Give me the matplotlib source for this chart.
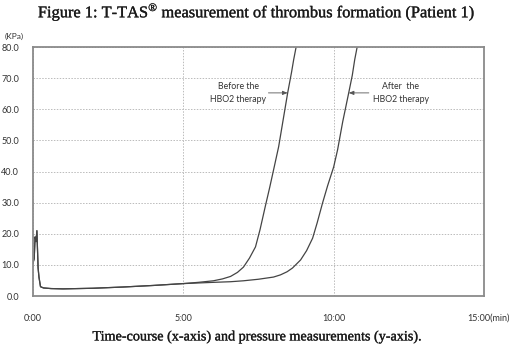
import matplotlib
matplotlib.use("Agg")
import matplotlib.pyplot as plt
import matplotlib.patheffects as pe

# time in minutes, pressure in kPa
t_before = [0.0, 0.04, 0.07, 0.1, 0.13, 0.17, 0.2, 0.25, 0.35, 0.6, 1.0, 2.0, 3.0, 4.0,
            5.0, 5.5, 6.0, 6.3, 6.57, 6.8, 7.0, 7.2, 7.4, 7.55, 7.73, 7.87, 8.0,
            8.17, 8.3, 8.47, 8.6, 8.67, 8.75]
p_before = [10.6, 12.0, 19.0, 17.5, 21.0, 9.0, 6.0, 3.0, 2.6, 2.4, 2.3, 2.5, 2.9, 3.4,
            4.0, 4.4, 4.9, 5.5, 6.3, 7.6, 9.3, 12.2, 15.8, 21.3, 29.0, 34.8, 40.5,
            48.0, 55.5, 65.3, 72.0, 76.0, 80.0]

t_after = [0.0, 0.04, 0.07, 0.1, 0.13, 0.17, 0.2, 0.25, 0.35, 0.6, 1.0, 2.0, 3.0, 4.0,
           5.0, 5.5, 6.0, 6.57, 7.0, 7.5, 8.0, 8.23, 8.45, 8.63, 8.9, 9.1, 9.3,
           9.45, 9.63, 9.8, 10.0, 10.13, 10.3, 10.5, 10.62, 10.7, 10.78]
p_after = [10.6, 12.0, 19.0, 17.5, 21.0, 9.0, 6.0, 3.0, 2.6, 2.4, 2.3, 2.5, 2.9, 3.4,
           4.0, 4.2, 4.4, 4.6, 4.9, 5.4, 6.1, 6.8, 7.8, 9.0, 11.6, 14.6, 18.6,
           23.5, 29.9, 35.5, 41.5, 47.0, 56.0, 65.3, 71.0, 76.0, 80.0]

y_ticks = [0, 10, 20, 30, 40, 50, 60, 70, 80]
x_ticks = [0, 5, 10]
x_labels = ["0:00", "5:00", "10:00"]

plt.rcParams["mathtext.fontset"] = "custom"
plt.rcParams["mathtext.rm"] = "Liberation Serif"

fig = plt.figure(figsize=(5.13, 3.52), dpi=100)
ax = fig.add_axes([0.0643, 0.159, 0.8792, 0.707])

ax.plot(t_before, p_before, color="#444444", lw=0.9)
ax.plot(t_after, p_after, color="#444444", lw=0.9)

ax.set_xlim(0, 15)
ax.set_ylim(0, 80)

ax.set_yticks(y_ticks)
ax.set_yticklabels([f"{v:.1f}" for v in y_ticks], family="Lato", fontsize=6.5, color="#333333")
ax.set_xticks(x_ticks)
ax.set_xticklabels(x_labels, family="Lato", fontsize=6.5, color="#333333")
ax.tick_params(axis="both", length=0)
ax.tick_params(axis="y", pad=10)
ax.tick_params(axis="x", pad=13)

ax.grid(True, linestyle=(0, (1.5, 1.5)), color="#bbbbbb", lw=0.7)
ax.set_axisbelow(True)
for s in ax.spines.values():
    s.set_color("#8a8a8a")
    s.set_linewidth(1.3)

ax.text(15.15, -0.087, "15:00(min)", transform=ax.get_xaxis_transform(),
        ha="center", va="center", family="Lato", fontsize=6.5, color="#333333")
ax.text(-0.02, 1.045, "(KPa)", transform=ax.transAxes, ha="right", va="center",
        family="Lato", fontsize=6, color="#333333")

# annotations
ax.text(6.83, 65.3, "Before the\nHBO2 therapy", ha="center", va="center",
        family="Lato", fontsize=6.3, color="#333333", linespacing=1.5)
ax.annotate("", xy=(8.47, 65.3), xytext=(7.83, 65.3),
            arrowprops=dict(arrowstyle="-|>,head_length=0.3,head_width=0.12",
                            color="#555555", lw=0.6, shrinkA=0, shrinkB=0))
ax.text(12.23, 65.3, "After  the\nHBO2 therapy", ha="center", va="center",
        family="Lato", fontsize=6.3, color="#333333", linespacing=1.5)
ax.annotate("", xy=(10.5, 65.3), xytext=(11.17, 65.3),
            arrowprops=dict(arrowstyle="-|>,head_length=0.3,head_width=0.12",
                            color="#555555", lw=0.6, shrinkA=0, shrinkB=0))

heavy = [pe.withStroke(linewidth=0.2, foreground="#1a1a1a")]
fig.text(0.5, 0.966, "Figure 1: T-TAS$^{\u00ae}$ measurement of thrombus formation (Patient 1)",
         ha="center", va="center", family="Liberation Serif", fontsize=11.8,
         color="#1a1a1a", path_effects=heavy)
fig.text(0.5, 0.043, "Time-course (x-axis) and pressure measurements (y-axis).",
         ha="center", va="center", family="Liberation Serif", fontsize=10.2,
         color="#1a1a1a", path_effects=heavy)

fig.savefig("out.png", dpi=100)
